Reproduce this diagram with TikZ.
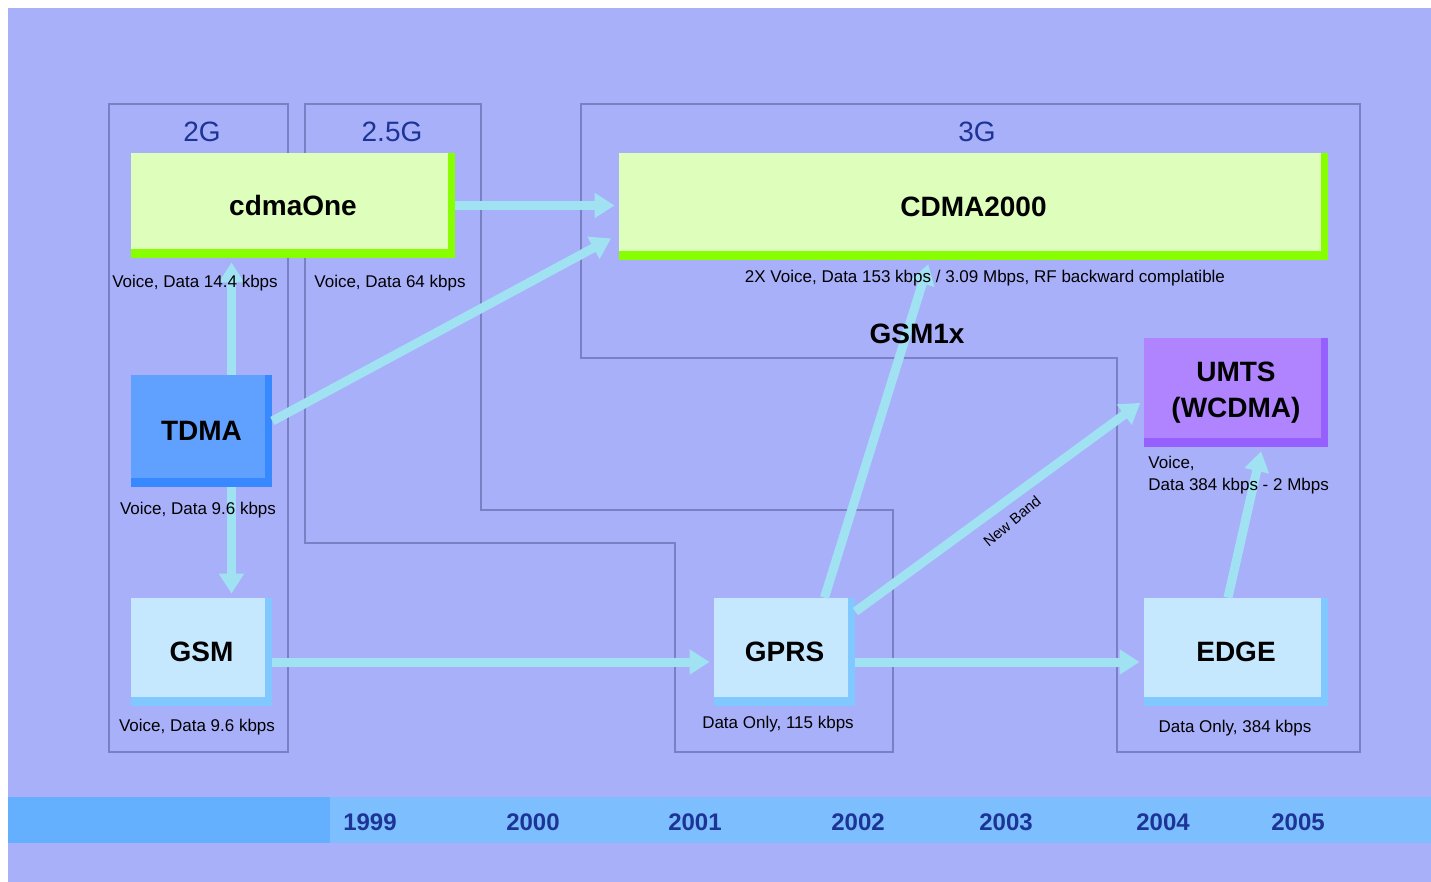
\documentclass[tikz,border=0pt]{standalone}
\usepackage{fontspec}
\setmainfont{Liberation Sans}
\usepackage{tikz}
\usetikzlibrary{arrows.meta,calc}

\definecolor{bgblue}{RGB}{169,176,250}
\definecolor{frameline}{RGB}{122,128,196}
\definecolor{flowcyan}{RGB}{160,226,242}
\definecolor{genblue}{RGB}{28,52,150}
\definecolor{limefill}{RGB}{221,255,187}
\definecolor{limeedge}{RGB}{136,255,0}
\definecolor{tdmafill}{RGB}{96,160,255}
\definecolor{tdmaedge}{RGB}{56,136,255}
\definecolor{palefill}{RGB}{198,232,255}
\definecolor{paleedge}{RGB}{128,200,255}
\definecolor{umtsfill}{RGB}{176,132,255}
\definecolor{umtsedge}{RGB}{150,96,255}
\definecolor{bandleft}{RGB}{100,176,255}
\definecolor{bandright}{RGB}{125,190,255}

\begin{document}
\begin{tikzpicture}[x=0.5pt, y=-0.5pt,
  tech/.style 2 args={fill=#2, inner sep=0pt, align=center,
    font=\fontsize{14}{18}\selectfont\bfseries,
    path picture={\fill[#1] (path picture bounding box.north west)
      rectangle ([xshift=-3.5pt,yshift=4.5pt]path picture bounding box.south east);}},
  gen/.style={font=\fontsize{14}{16}\selectfont, text=genblue},
  note/.style={font=\fontsize{8.5}{11}\selectfont, inner sep=0pt},
  year/.style={font=\fontsize{12}{14}\selectfont\bfseries, text=genblue},
  frame/.style={draw=frameline, line width=0.8pt},
  flow/.style={draw=flowcyan, line width=4.5pt,
    -{Triangle[width=12pt,length=10pt]}, shorten >=2pt}]
  \useasboundingbox (0,0) rectangle (1431,882);
  \fill[bgblue] (8,8) rectangle (1431,882);
  % time line
  \fill[bandright] (8,797) rectangle (1431,843);
  \fill[bandleft] (8,797) rectangle (330,843);
  % generation frames
  \draw[frame] (109,104) rectangle (288,752);
  \draw[frame] (305,104) -- (481,104) -- (481,510) -- (893,510) -- (893,752)
    -- (675,752) -- (675,543) -- (305,543) -- cycle;
  \draw[frame] (581,104) -- (1360,104) -- (1360,752) -- (1117,752)
    -- (1117,358) -- (581,358) -- cycle;
  \node[gen] (g2) at (202,132) {2G};
  \node[gen] (g25) at (392,132) {2.5G};
  \node[gen] (g3) at (977,132) {3G};

  \node[tech={limefill}{limeedge}, minimum width=162pt, minimum height=52.5pt]
    (cdmaone) at (293,205.5) {cdmaOne};
  \node[tech={limefill}{limeedge}, minimum width=354.5pt, minimum height=53.5pt]
    (cdma2k) at (973.5,206.5) {CDMA2000};
  \node[tech={tdmafill}{tdmaedge}, minimum width=70.5pt, minimum height=56pt]
    (tdma) at (201.5,431) {TDMA};
  \node[tech={palefill}{paleedge}, minimum width=70.5pt, minimum height=54pt]
    (gsm) at (201.5,652) {GSM};
  \node[tech={palefill}{paleedge}, minimum width=70.5pt, minimum height=54pt]
    (gprs) at (784.5,652) {GPRS};
  \node[tech={palefill}{paleedge}, minimum width=92pt, minimum height=54pt]
    (edge) at (1236,652) {EDGE};
  \node[tech={umtsfill}{umtsedge}, minimum width=92pt, minimum height=54.5pt]
    (umts) at (1236,392.5) {UMTS\\(WCDMA)};

  % migration paths
  \draw[flow] (cdmaone) -- (cdmaone -| cdma2k.west);
  \draw[flow] ([yshift=5pt]tdma.east) -- ([xshift=-2pt,yshift=-15pt]cdma2k.west);
  \draw[flow] ([xshift=15pt]tdma.north) -- ([xshift=15pt]tdma.north |- cdmaone.south);
  \draw[flow] ([xshift=15pt]tdma.south) -- ([xshift=15pt]tdma.south |- gsm.north);
  \draw[flow] ([yshift=-5pt]gsm.east) -- ([yshift=-5pt]gsm.east -| gprs.west);
  \draw[flow] ([yshift=-5pt]gprs.east) -- ([yshift=-5pt]gprs.east -| edge.west);
  \draw[flow] ([xshift=20pt]gprs.north) -- ([xshift=-22pt]cdma2k.south);
  \draw[flow] ([yshift=-7pt]gprs.north east) -- ([yshift=-4pt]umts.west);
  \draw[flow] ([xshift=-4pt]edge.north) -- ([xshift=13pt]umts.south);

  \node[note] (cdmaonenote) at (195,283) {Voice, Data 14.4 kbps};
  \node[note] (g25note) at (390,283) {Voice, Data 64 kbps};
  \node[note] (cdma2knote) at (985,278) {2X Voice, Data 153 kbps / 3.09 Mbps, RF backward complatible};
  \node[note] (tdmanote) at (198,510) {Voice, Data 9.6 kbps};
  \node[note] (gsmnote) at (197,727) {Voice, Data 9.6 kbps};
  \node[note] (gprsnote) at (778,724) {Data Only, 115 kbps};
  \node[note] (edgenote) at (1235,728) {Data Only, 384 kbps};
  \node[note, align=left, anchor=north west] (umtsnote) at (1148,456)
    {Voice,\\Data 384 kbps - 2 Mbps};
  \node[note, font=\fontsize{7.5}{9}\selectfont, rotate=40] (newband) at (1012,521) {New Band};
  \node[font=\fontsize{14}{16}\selectfont\bfseries] (gsm1x) at (917,334) {GSM1x};

  \foreach \yr/\xx in {1999/370,2000/533,2001/695,2002/858,2003/1006,2004/1163,2005/1298}
    \node[year] (y\yr) at (\xx,822) {\yr};
\end{tikzpicture}
\end{document}
